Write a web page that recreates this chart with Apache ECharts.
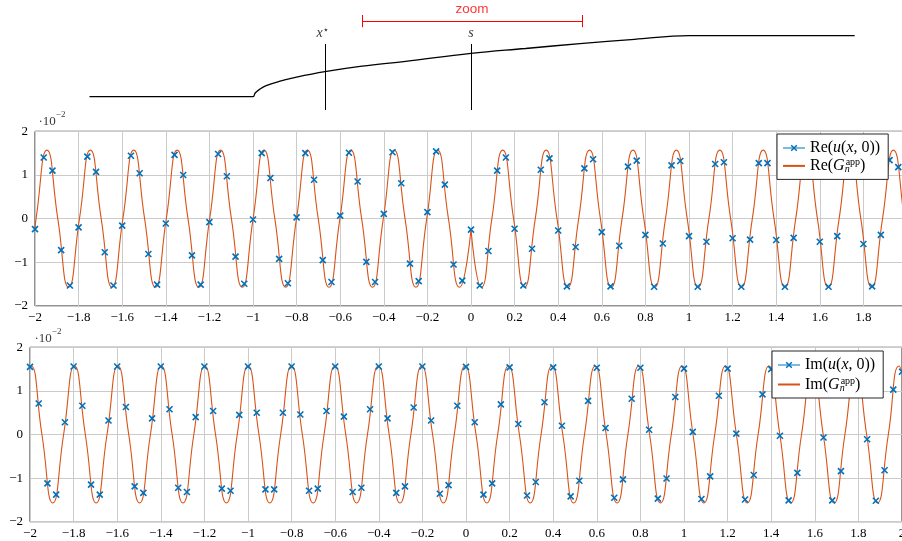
<!DOCTYPE html>
<html>
<head>
<meta charset="utf-8">
<script src="https://cdn.jsdelivr.net/npm/echarts@6/dist/echarts.min.js"></script>
<style>
  html, body { margin: 0; padding: 0; background: #fff; }
  #chart { width: 902px; height: 541px; }
</style>
</head>
<body>
<div id="chart"></div>
<script>
// sample points of u(x,0) (crosses)
const sampleX = [-2, -1.96, -1.92, -1.88, -1.84, -1.8, -1.76, -1.72, -1.68, -1.64, -1.6, -1.56, -1.52, -1.48, -1.44, -1.4, -1.36, -1.32, -1.28, -1.24, -1.2, -1.16, -1.12, -1.08, -1.04, -1, -0.96, -0.92, -0.88, -0.84, -0.8, -0.76, -0.72, -0.68, -0.64, -0.6, -0.56, -0.52, -0.48, -0.44, -0.4, -0.36, -0.32, -0.28, -0.24, -0.2, -0.16, -0.12, -0.08, -0.04, 0, 0.04, 0.08, 0.12, 0.16, 0.2, 0.24, 0.28, 0.32, 0.36, 0.4, 0.44, 0.48, 0.52, 0.56, 0.6, 0.64, 0.68, 0.72, 0.76, 0.8, 0.84, 0.88, 0.92, 0.96, 1, 1.04, 1.08, 1.12, 1.16, 1.2, 1.24, 1.28, 1.32, 1.36, 1.4, 1.44, 1.48, 1.52, 1.56, 1.6, 1.64, 1.68, 1.72, 1.76, 1.8, 1.84, 1.88, 1.92, 1.96, 2];
const reSamples = [-0.24, 1.40, 1.10, -0.72, -1.53, -0.20, 1.42, 1.07, -0.77, -1.53, -0.16, 1.44, 1.04, -0.81, -1.51, -0.11, 1.46, 1.00, -0.84, -1.51, -0.08, 1.48, 0.97, -0.87, -1.49, -0.02, 1.50, 0.93, -0.92, -1.48, 0.03, 1.50, 0.89, -0.95, -1.45, 0.07, 1.51, 0.85, -0.99, -1.45, 0.11, 1.52, 0.81, -1.03, -1.43, 0.15, 1.54, 0.78, -1.05, -1.42, -0.25, -1.53, -0.74, 1.10, 1.40, -0.23, -1.53, -0.69, 1.12, 1.38, -0.27, -1.55, -0.65, 1.15, 1.36, -0.31, -1.55, -0.62, 1.19, 1.33, -0.37, -1.56, -0.57, 1.22, 1.32, -0.40, -1.56, -0.53, 1.25, 1.29, -0.45, -1.56, -0.48, 1.27, 1.27, -0.49, -1.56, -0.44, 1.29, 1.25, -0.53, -1.56, -0.40, 1.31, 1.22, -0.58, -1.55, -0.37, 1.34, 1.18, -0.61];
const imSamples = [1.55, 0.71, -1.12, -1.38, 0.28, 1.56, 0.66, -1.15, -1.38, 0.32, 1.56, 0.63, -1.19, -1.34, 0.37, 1.56, 0.58, -1.22, -1.32, 0.40, 1.56, 0.54, -1.24, -1.29, 0.45, 1.56, 0.50, -1.26, -1.26, 0.50, 1.56, 0.46, -1.29, -1.24, 0.54, 1.56, 0.41, -1.32, -1.22, 0.58, 1.56, 0.37, -1.34, -1.19, 0.62, 1.56, 0.32, -1.36, -1.16, 0.66, 1.55, 0.28, -1.38, -1.12, 0.69, 1.54, 0.24, -1.40, -1.09, 0.74, 1.54, 0.20, -1.42, -1.06, 0.77, 1.53, 0.15, -1.45, -1.03, 0.82, 1.53, 0.11, -1.47, -1.01, 0.86, 1.51, 0.06, -1.48, -0.96, 0.89, 1.51, 0.02, -1.49, -0.93, 0.92, 1.50, -0.03, -1.51, -0.88, 0.96, 1.47, -0.07, -1.51, -0.84, 1.00, 1.46, -0.11, -1.52, -0.82, 1.03, 1.44];

const reLeftX = [-2, -1.9951, -1.9453, -1.8955, -1.8457, -1.7960, -1.7462, -1.6964, -1.6466, -1.5968, -1.5471, -1.4973, -1.4475, -1.3977, -1.3480, -1.2982, -1.2484, -1.1986, -1.1488, -1.0991, -1.0493, -0.9995, -0.9497, -0.8999, -0.8502, -0.8004, -0.7506, -0.7008, -0.6511, -0.6013, -0.5515, -0.5017, -0.4519, -0.4022, -0.3524, -0.3026, -0.2528, -0.2030, -0.1533, -0.1035, -0.0520, 0];
const reLeftY = [-0.24,
  0, 1.57, 0, -1.57, 0, 1.57, 0, -1.57, 0, 1.57, 0, -1.57, 0, 1.57, 0, -1.57, 0, 1.57, 0, -1.57,
  0, 1.57, 0, -1.57, 0, 1.57, 0, -1.57, 0, 1.57, 0, -1.57, 0, 1.57, 0, -1.57, 0, 1.57, 0, -1.57,
  -0.25];
const reRightX = [0, 0.0470, 0.0958, 0.1456, 0.1953, 0.2451, 0.2949, 0.3447, 0.3945, 0.4442, 0.4940, 0.5438, 0.5936, 0.6433, 0.6931, 0.7429, 0.7927, 0.8425, 0.8922, 0.9420, 0.9918, 1.0416, 1.0913, 1.1411, 1.1909, 1.2407, 1.2905, 1.3402, 1.3900, 1.4398, 1.4896, 1.5393, 1.5891, 1.6389, 1.6887, 1.7385, 1.7882, 1.8380, 1.8878, 1.9376, 1.9873, 2];
const reRightY = [-0.25,
  -1.57, 0, 1.57, 0, -1.57, 0, 1.57, 0, -1.57, 0, 1.57, 0, -1.57, 0, 1.57, 0, -1.57, 0, 1.57, 0,
  -1.57, 0, 1.57, 0, -1.57, 0, 1.57, 0, -1.57, 0, 1.57, 0, -1.57, 0, 1.57, 0, -1.57, 0, 1.57, 0,
  -0.61];

// G_n^app, imaginary part
const imCurveX = [-2, -1.9951, -1.9453, -1.8956, -1.8458, -1.7960, -1.7462, -1.6965, -1.6467, -1.5969, -1.5471, -1.4973, -1.4476, -1.3978, -1.3480, -1.2982, -1.2485, -1.1987, -1.1489, -1.0991, -1.0493, -0.9996, -0.9498, -0.9000, -0.8502, -0.8004, -0.7507, -0.7009, -0.6511, -0.6013, -0.5516, -0.5018, -0.4520, -0.4022, -0.3524, -0.3027, -0.2529, -0.2031, -0.1533, -0.1036, -0.0538, -0.0040, 0.0458, 0.0956, 0.1453, 0.1951, 0.2449, 0.2947, 0.3444, 0.3942, 0.4440, 0.4938, 0.5436, 0.5933, 0.6431, 0.6929, 0.7427, 0.7924, 0.8422, 0.8920, 0.9418, 0.9916, 1.0413, 1.0911, 1.1409, 1.1907, 1.2404, 1.2902, 1.3400, 1.3898, 1.4396, 1.4893, 1.5391, 1.5889, 1.6387, 1.6885, 1.7382, 1.7880, 1.8378, 1.8876, 1.9373, 1.9871, 2];
const imCurveY = [1.55,
  1.57, 0, -1.57, 0, 1.57, 0, -1.57, 0, 1.57, 0, -1.57, 0, 1.57, 0, -1.57, 0, 1.57, 0, -1.57, 0,
  1.57, 0, -1.57, 0, 1.57, 0, -1.57, 0, 1.57, 0, -1.57, 0, 1.57, 0, -1.57, 0, 1.57, 0, -1.57, 0,
  1.57, 0, -1.57, 0, 1.57, 0, -1.57, 0, 1.57, 0, -1.57, 0, 1.57, 0, -1.57, 0, 1.57, 0, -1.57, 0,
  1.57, 0, -1.57, 0, 1.57, 0, -1.57, 0, 1.57, 0, -1.57, 0, 1.57, 0, -1.57, 0, 1.57, 0, -1.57, 0,
  1.57, 1.44];

// sketch on top: profile, marked points and zoom window
const profileX = [-1.75, -1, -0.99, -0.97, -0.94, -0.88, -0.8, -0.67, -0.5, -0.3, 0, 0.25, 0.5, 0.75, 1, 1.76];
const profileH = [0, 0, 0.06, 0.12, 0.18, 0.25, 0.32, 0.41, 0.5, 0.58, 0.71, 0.79, 0.87, 0.94, 1, 1];
const xStar = -0.67;
const sPos = 0;
const zoomRange = [-0.5, 0.51];

const pair = (xs, ys) => xs.map((x, i) => [x, ys[i]]);
const fmt = (v) => String(Number(v.toFixed(2))).replace('-', '\u2212');

const BLUE = '#0072BD';
const ORANGE = '#D95319';
const SERIF = 'Liberation Serif';
const CROSS = 'path://M0,0L10,10M10,0L0,10';
const GRID_GREY = '#cbcbcb';

const mathRich = {
  t: {fontFamily: SERIF, fontSize: 16, lineHeight: 17, color: '#000'},
  i: {fontFamily: SERIF, fontSize: 16, fontStyle: 'italic', lineHeight: 17, color: '#000'},
  sub: {fontFamily: SERIF, fontSize: 10, fontStyle: 'italic', verticalAlign: 'bottom', width: 1, color: '#000'},
  sup: {fontFamily: SERIF, fontSize: 10, verticalAlign: 'top', color: '#000'},
};
const legendText = {
  'Re(u)': '{t|Re(}{i|u}{t|(}{i|x}{t|, 0))}',
  'Re(G)': '{t|Re(}{i|G}{sub|n}{sup|app}{t|)}',
  'Im(u)': '{t|Im(}{i|u}{t|(}{i|x}{t|, 0))}',
  'Im(G)': '{t|Im(}{i|G}{sub|n}{sup|app}{t|)}',
};

function panelX(gridIndex) {
  return {
    gridIndex, type: 'value', min: -2, max: 2, interval: 0.2,
    axisLine: {show: false}, axisTick: {show: false},
    splitLine: {show: true, lineStyle: {color: GRID_GREY, width: 1}},
    axisLabel: {margin: 5, fontFamily: SERIF, fontSize: 13, color: '#000', formatter: fmt},
  };
}
function panelY(gridIndex) {
  return {
    gridIndex, type: 'value', min: -2, max: 2, interval: 1,
    axisLine: {show: false}, axisTick: {show: false},
    splitLine: {show: true, lineStyle: {color: GRID_GREY, width: 1}},
    axisLabel: {margin: 7, fontFamily: SERIF, fontSize: 13, color: '#000', formatter: fmt},
  };
}
// the "·10^-2" scale note, pinned to the top-left corner of a panel
function scaleNote(xi, offset) {
  return {
    type: 'scatter', xAxisIndex: xi, yAxisIndex: xi, silent: true, symbolSize: 1, z: 5,
    itemStyle: {color: 'transparent'},
    data: [[-2, 2]],
    label: {
      show: true, position: offset, align: 'left', verticalAlign: 'top',
      formatter: '{a|\u00b710}{b|\u22122}',
      rich: {
        a: {fontFamily: SERIF, fontSize: 13, color: '#000', padding: [5, 0, 0, 0]},
        b: {fontFamily: SERIF, fontSize: 9, color: '#000', verticalAlign: 'top'},
      },
    },
  };
}
function legendBox(names, left, top, gap) {
  return {
    z: 20,
    data: [
      {name: names[0], lineStyle: {opacity: 1, width: 1, color: BLUE}, itemStyle: {borderWidth: 1.5}},
      {name: names[1], itemStyle: {opacity: 0}},
    ],
    orient: 'vertical', left, top, itemWidth: 22, itemHeight: 7, itemGap: gap,
    padding: [6, 8, 5, 5], borderColor: '#262626', borderWidth: 1, backgroundColor: '#fff',
    selectedMode: false,
    textStyle: {fontFamily: SERIF, fontSize: 16, color: '#000', rich: mathRich},
    formatter: (name) => legendText[name],
  };
}
function samples(name, xi, values) {
  return {
    name, type: 'line', xAxisIndex: xi, yAxisIndex: xi, z: 4,
    data: pair(sampleX, values),
    symbol: CROSS, symbolSize: 6, showAllSymbol: true,
    itemStyle: {color: BLUE, borderColor: BLUE, borderWidth: 1.6},
    lineStyle: {opacity: 0},
  };
}
function curve(name, xi, xs, ys) {
  return {
    name, type: 'line', xAxisIndex: xi, yAxisIndex: xi, z: 3,
    data: pair(xs, ys), smooth: 0.55, symbol: 'none',
    lineStyle: {color: ORANGE, width: 1.1}, itemStyle: {color: ORANGE},
  };
}

const chart = echarts.init(document.getElementById('chart'), null, {renderer: 'canvas'});
chart.setOption({
  animation: false,
  backgroundColor: '#fff',
  grid: [
    {left: 35, top: 0, width: 872, height: 110, outerBoundsMode: 'none'},
    {left: 35, top: 131.3, width: 872, height: 174.7, show: true, borderColor: '#262626', borderWidth: 1, outerBoundsMode: 'none'},
    {left: 30, top: 347.3, width: 872, height: 174.4, show: true, borderColor: '#262626', borderWidth: 1, outerBoundsMode: 'none'},
  ],
  xAxis: [
    {gridIndex: 0, type: 'value', min: -2, max: 2, show: false},
    panelX(1),
    panelX(2),
  ],
  yAxis: [
    {gridIndex: 0, type: 'value', min: -0.218, max: 1.585, show: false},
    panelY(1),
    panelY(2),
  ],
  legend: [
    legendBox(['Re(u)', 'Re(G)'], 777, 134, 1.4),
    legendBox(['Im(u)', 'Im(G)'], 772, 351, 3),
  ],
  series: [
    // sketch
    {
      type: 'line', xAxisIndex: 0, yAxisIndex: 0, data: pair(profileX, profileH),
      smooth: 0.4, symbol: 'none', lineStyle: {color: '#000', width: 1.3}, silent: true,
    },
    {
      type: 'lines', coordinateSystem: 'cartesian2d', xAxisIndex: 0, yAxisIndex: 0, silent: true,
      lineStyle: {color: '#000', width: 1, opacity: 1},
      data: [
        {coords: [[xStar, -0.218], [xStar, 0.865]]},
        {coords: [[sPos, -0.218], [sPos, 0.865]]},
      ],
    },
    {
      type: 'lines', coordinateSystem: 'cartesian2d', xAxisIndex: 0, yAxisIndex: 0, silent: true,
      lineStyle: {color: '#ff0000', width: 1, opacity: 1},
      data: [
        {coords: [[zoomRange[0], 1.242], [zoomRange[1], 1.242]]},
        {coords: [[zoomRange[0], 1.14], [zoomRange[0], 1.34]]},
        {coords: [[zoomRange[1], 1.14], [zoomRange[1], 1.34]]},
      ],
    },
    {
      type: 'scatter', xAxisIndex: 0, yAxisIndex: 0, silent: true, symbolSize: 1,
      itemStyle: {color: 'transparent'},
      label: {
        show: true, position: 'inside', formatter: (p) => p.data[2],
        rich: {
          i: {fontFamily: SERIF, fontSize: 14, fontStyle: 'italic', color: '#000', lineHeight: 16},
          st: {fontFamily: 'DejaVu Sans', fontSize: 10, color: '#000', verticalAlign: 'top'},
          z: {fontFamily: 'Liberation Sans', fontSize: 13.5, color: '#ff0000'},
        },
      },
      data: [
        [xStar - 0.01, 1.04, '{i|x}{st|\u22c6}'],
        [sPos, 1.04, '{i|s}'],
        [(zoomRange[0] + zoomRange[1]) / 2, 1.44, '{z|zoom}'],
      ],
    },
    // real part
    samples('Re(u)', 1, reSamples),
    curve('Re(G)', 1, reLeftX, reLeftY),
    curve('Re(G) right', 1, reRightX, reRightY),
    scaleNote(1, [4, -21]),
    // imaginary part
    samples('Im(u)', 2, imSamples),
    curve('Im(G)', 2, imCurveX, imCurveY),
    scaleNote(2, [5, -20]),
  ],
});
</script>
</body>
</html>
